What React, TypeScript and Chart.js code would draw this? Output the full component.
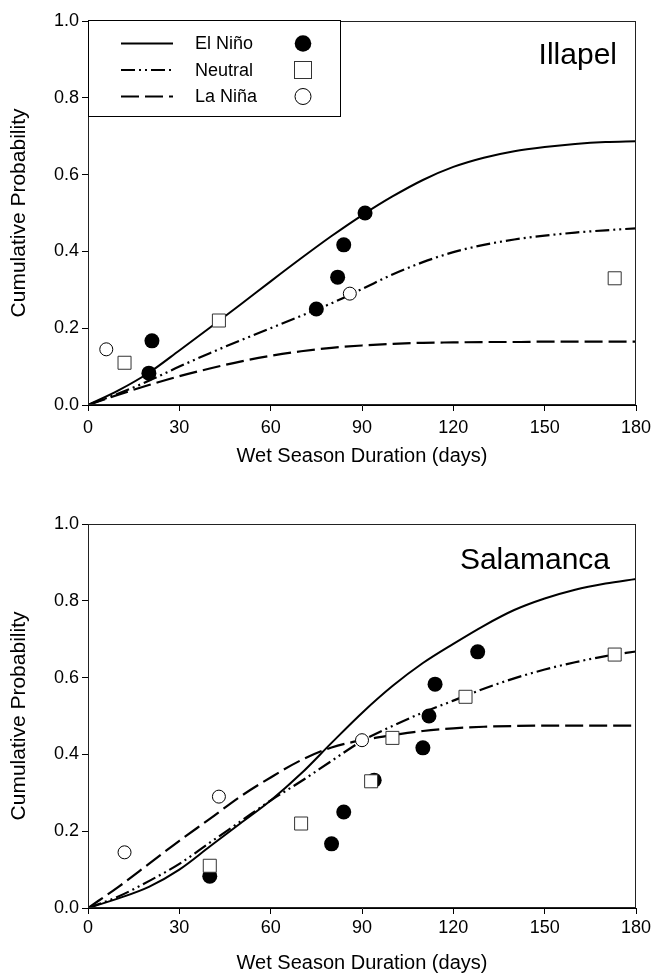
import React, { useEffect, useRef } from 'react';
import { Chart, registerables } from 'chart.js';

Chart.register(...registerables);

const FONT = "'Liberation Sans', Arial, sans-serif";

// Curve sampling days (read every 10 days from the fitted curves)
const CURVE_DAYS = [0, 10, 20, 30, 40, 50, 60, 70, 80, 90, 100, 110, 120, 130, 140, 150, 160, 170, 180];
const X_TICKS = [0, 30, 60, 90, 120, 150, 180];
const Y_TICKS = [0, 0.2, 0.4, 0.6, 0.8, 1.0];

// ---- Illapel ----
const ILL_ELNINO_CURVE = [0, 0.038, 0.084, 0.142, 0.201, 0.261, 0.322, 0.382, 0.44, 0.494, 0.543, 0.586, 0.62, 0.644, 0.661, 0.672, 0.68, 0.685, 0.687];
const ILL_NEUTRAL_CURVE = [0, 0.03, 0.063, 0.1, 0.135, 0.168, 0.2, 0.232, 0.265, 0.302, 0.34, 0.372, 0.398, 0.417, 0.431, 0.441, 0.449, 0.455, 0.46];
const ILL_LANINA_CURVE = [0, 0.027, 0.052, 0.075, 0.095, 0.113, 0.128, 0.14, 0.149, 0.155, 0.159, 0.162, 0.163, 0.164, 0.164, 0.165, 0.165, 0.165, 0.165];

const ILL_ELNINO_DAYS = [20, 21, 75, 82, 84, 91];
const ILL_ELNINO_PROB = [0.083, 0.167, 0.25, 0.333, 0.417, 0.5];
const ILL_NEUTRAL_DAYS = [12, 43, 173];
const ILL_NEUTRAL_PROB = [0.11, 0.22, 0.33];
const ILL_LANINA_DAYS = [6, 86];
const ILL_LANINA_PROB = [0.145, 0.29];

// ---- Salamanca ----
const SAL_ELNINO_CURVE = [0, 0.025, 0.055, 0.1, 0.16, 0.22, 0.28, 0.35, 0.43, 0.508, 0.578, 0.638, 0.688, 0.735, 0.776, 0.806, 0.829, 0.845, 0.857];
const SAL_NEUTRAL_CURVE = [0, 0.03, 0.07, 0.115, 0.17, 0.225, 0.28, 0.33, 0.383, 0.435, 0.474, 0.509, 0.54, 0.571, 0.598, 0.621, 0.64, 0.656, 0.668];
const SAL_LANINA_CURVE = [0, 0.055, 0.115, 0.175, 0.232, 0.29, 0.34, 0.385, 0.418, 0.437, 0.45, 0.461, 0.468, 0.472, 0.474, 0.475, 0.475, 0.475, 0.475];

const SAL_ELNINO_DAYS = [40, 80, 84, 94, 110, 112, 114, 128];
const SAL_ELNINO_PROB = [0.083, 0.167, 0.25, 0.333, 0.417, 0.5, 0.583, 0.667];
const SAL_NEUTRAL_DAYS = [40, 70, 93, 100, 124, 173];
const SAL_NEUTRAL_PROB = [0.11, 0.22, 0.33, 0.443, 0.55, 0.66];
const SAL_LANINA_DAYS = [12, 43, 90];
const SAL_LANINA_PROB = [0.145, 0.29, 0.437];

const SERIES_NAMES = ['El Niño', 'Neutral', 'La Niña'];

const LINE_STYLES = [
  { dash: [] as number[], width: 2 },
  { dash: [14, 4, 2, 4, 2, 4], width: 2.2 },
  { dash: [18, 6], width: 2.2 },
];

const MARKERS = [
  { style: 'circle', radius: 7.5, bg: '#000', border: '#000', bw: 0 },
  { style: 'rect', radius: 9.2, bg: '#fff', border: '#333', bw: 1 },
  { style: 'circle', radius: 6.5, bg: '#fff', border: '#000', bw: 1 },
];

const zip = (xs: number[], ys: number[]) => xs.map((x, i) => ({ x, y: ys[i] }));

function buildDatasets(curves: number[][], ptsX: number[][], ptsY: number[][]) {
  const ds: any[] = [];
  const pointOrder = [2, 0, 1];
  for (let i = 0; i < 3; i++) {
    const m = MARKERS[i];
    ds.push({
      label: SERIES_NAMES[i] + ' obs',
      data: zip(ptsX[i], ptsY[i]),
      showLine: false,
      pointStyle: m.style,
      pointRadius: m.radius,
      pointBackgroundColor: m.bg,
      pointBorderColor: m.border,
      pointBorderWidth: m.bw,
      order: pointOrder[i],
    });
  }
  for (let i = 0; i < 3; i++) {
    const l = LINE_STYLES[i];
    ds.push({
      label: SERIES_NAMES[i],
      data: zip(CURVE_DAYS, curves[i]),
      showLine: true,
      borderColor: '#000',
      borderWidth: l.width,
      borderDash: l.dash,
      pointRadius: 0,
      pointHitRadius: 0,
      cubicInterpolationMode: 'monotone',
      fill: false,
      order: 5,
    });
  }
  return ds;
}

function drawMarker(ctx: CanvasRenderingContext2D, i: number, x: number, y: number) {
  ctx.save();
  ctx.lineWidth = 1;
  ctx.setLineDash([]);
  if (i === 0) {
    ctx.fillStyle = '#000';
    ctx.beginPath();
    ctx.arc(x, y, 8.3, 0, Math.PI * 2);
    ctx.fill();
  } else if (i === 1) {
    ctx.fillStyle = '#fff';
    ctx.strokeStyle = '#333';
    ctx.fillRect(x - 8.5, y - 8.5, 17, 17);
    ctx.strokeRect(x - 8.5, y - 8.5, 17, 17);
  } else {
    ctx.fillStyle = '#fff';
    ctx.strokeStyle = '#000';
    ctx.beginPath();
    ctx.arc(x, y, 8, 0, Math.PI * 2);
    ctx.fill();
    ctx.stroke();
  }
  ctx.restore();
}

interface PanelProps {
  top: number;
  height: number;
  padTop: number;
  xAxisH: number;
  tickPad: number;
  titlePadBottom: number;
  place: string;
  placeX: number;
  placeY: number;
  curves: number[][];
  ptsX: number[][];
  ptsY: number[][];
  legend: boolean;
}

function Panel(p: PanelProps) {
  const ref = useRef<HTMLCanvasElement | null>(null);
  useEffect(() => {
    if (!ref.current) return;
    const framePlugin = {
      id: 'frame',
      afterDatasetsDraw(chart: any) {
        const { ctx, chartArea } = chart;
        ctx.save();
        ctx.strokeStyle = '#222';
        ctx.lineWidth = 1;
        ctx.setLineDash([]);
        ctx.strokeRect(Math.round(chartArea.left) + 0.5, Math.round(chartArea.top) + 0.5,
          Math.round(chartArea.right - chartArea.left) - 1, Math.round(chartArea.bottom - chartArea.top) - 1);
        ctx.restore();
      },
    };
    const labelPlugin = {
      id: 'placeLabel',
      afterDraw(chart: any) {
        const { ctx } = chart;
        ctx.save();
        ctx.fillStyle = '#000';
        ctx.font = `30px ${FONT}`;
        ctx.textAlign = 'right';
        ctx.textBaseline = 'alphabetic';
        ctx.fillText(p.place, p.placeX, p.placeY);
        if (p.legend) {
          const lx = 88.5, ly = 20.5, lw = 252, lh = 96;
          ctx.fillStyle = '#fff';
          ctx.fillRect(lx, ly, lw, lh);
          ctx.strokeStyle = '#000';
          ctx.lineWidth = 1;
          ctx.strokeRect(lx, ly, lw, lh);
          const rows = [43.5, 70, 96.5];
          for (let i = 0; i < 3; i++) {
            const y = rows[i];
            ctx.save();
            ctx.strokeStyle = '#000';
            ctx.lineWidth = LINE_STYLES[i].width;
            ctx.setLineDash(LINE_STYLES[i].dash);
            ctx.beginPath();
            ctx.moveTo(121, y);
            ctx.lineTo(173, y);
            ctx.stroke();
            ctx.restore();
            ctx.fillStyle = '#000';
            ctx.font = `18px ${FONT}`;
            ctx.textAlign = 'left';
            ctx.textBaseline = 'middle';
            ctx.fillText(SERIES_NAMES[i], 195, y + 1);
            drawMarker(ctx, i, 303, y);
          }
        }
        ctx.restore();
      },
    };
    const chart = new Chart(ref.current, {
      type: 'scatter',
      data: { datasets: buildDatasets(p.curves, p.ptsX, p.ptsY) },
      options: {
        animation: false,
        responsive: false,
        devicePixelRatio: 1,
        layout: { padding: { left: 0, right: 17, top: p.padTop, bottom: 0 } },
        plugins: { legend: { display: false }, tooltip: { enabled: false } },
        scales: {
          x: {
            type: 'linear',
            min: 0,
            max: 180,
            afterBuildTicks: (s: any) => { s.ticks = X_TICKS.map((v) => ({ value: v })); },
            afterFit: (s: any) => {
              s.height = p.xAxisH;
              s.paddingLeft = 0;
              s.paddingRight = 0;
              s.paddingTop = 0;
              s.paddingBottom = 0;
            },
            grid: { drawOnChartArea: false, drawTicks: true, tickLength: 6, color: '#000' },
            border: { display: true, color: '#000', width: 1 },
            ticks: { font: { family: FONT, size: 18 }, color: '#000', padding: p.tickPad, maxRotation: 0, autoSkip: false },
            title: {
              display: true,
              text: 'Wet Season Duration (days)',
              font: { family: FONT, size: 20 },
              color: '#000',
              padding: { top: 0, bottom: p.titlePadBottom },
            },
          },
          y: {
            type: 'linear',
            min: 0,
            max: 1,
            afterBuildTicks: (s: any) => { s.ticks = Y_TICKS.map((v) => ({ value: v })); },
            afterFit: (s: any) => {
              s.width = 88;
              s.paddingLeft = 0;
              s.paddingRight = 0;
              s.paddingTop = 0;
              s.paddingBottom = 0;
            },
            grid: { drawOnChartArea: false, drawTicks: true, tickLength: 6, color: '#000' },
            border: { display: true, color: '#000', width: 1 },
            ticks: {
              font: { family: FONT, size: 18 },
              color: '#000',
              padding: 3,
              callback: (v: any) => Number(v).toFixed(1),
            },
            title: {
              display: true,
              text: 'Cumulative Probability',
              font: { family: FONT, size: 21 },
              color: '#000',
              padding: { top: 7, bottom: 0 },
            },
          },
        },
      } as any,
      plugins: [framePlugin, labelPlugin],
    });
    return () => chart.destroy();
  }, []);
  return (
    <canvas
      ref={ref}
      width={653}
      height={p.height}
      style={{ position: 'absolute', left: 0, top: p.top, width: 653, height: p.height }}
    />
  );
}

export default function App() {
  return (
    <div style={{ position: 'absolute', left: 0, top: 0, width: 653, height: 977, background: '#fff' }}>
      <Panel
        top={0}
        height={490}
        padTop={21}
        xAxisH={85}
        tickPad={6}
        titlePadBottom={22}
        place="Illapel"
        placeX={617}
        placeY={64}
        curves={[ILL_ELNINO_CURVE, ILL_NEUTRAL_CURVE, ILL_LANINA_CURVE]}
        ptsX={[ILL_ELNINO_DAYS, ILL_NEUTRAL_DAYS, ILL_LANINA_DAYS]}
        ptsY={[ILL_ELNINO_PROB, ILL_NEUTRAL_PROB, ILL_LANINA_PROB]}
        legend={true}
      />
      <Panel
        top={490}
        height={487}
        padTop={34}
        xAxisH={69}
        tickPad={3}
        titlePadBottom={2}
        place="Salamanca"
        placeX={610}
        placeY={79}
        curves={[SAL_ELNINO_CURVE, SAL_NEUTRAL_CURVE, SAL_LANINA_CURVE]}
        ptsX={[SAL_ELNINO_DAYS, SAL_NEUTRAL_DAYS, SAL_LANINA_DAYS]}
        ptsY={[SAL_ELNINO_PROB, SAL_NEUTRAL_PROB, SAL_LANINA_PROB]}
        legend={false}
      />
    </div>
  );
}
